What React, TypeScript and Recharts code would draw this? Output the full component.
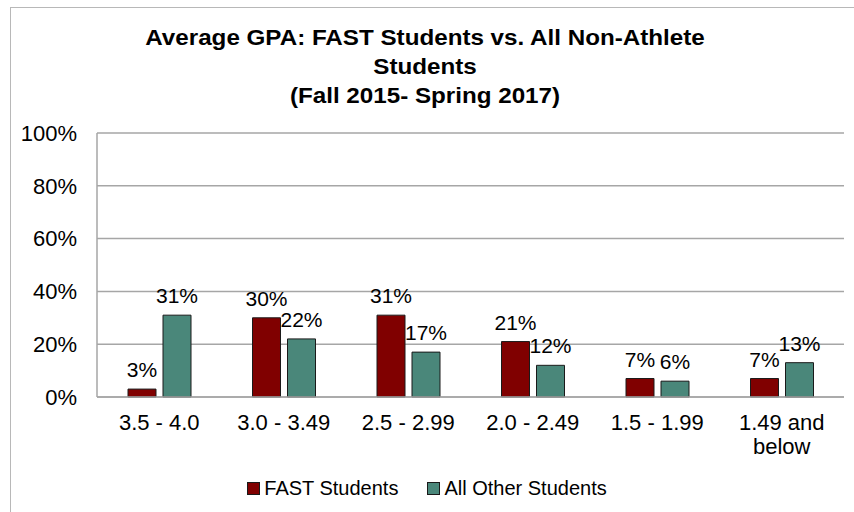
import React from 'react';
import { BarChart, Bar, XAxis, YAxis, CartesianGrid, Legend, LabelList } from 'recharts';

const gpaRanges = ['3.5 - 4.0', '3.0 - 3.49', '2.5 - 2.99', '2.0 - 2.49', '1.5 - 1.99', '1.49 and below'];
const fastStudents = [3, 30, 31, 21, 7, 7];
const otherStudents = [31, 22, 17, 12, 6, 13];
const percentTicks = [0, 20, 40, 60, 80, 100];
const titleLines = ['Average GPA: FAST Students vs. All Non-Athlete', 'Students', '(Fall 2015- Spring 2017)'];

const FONT = '"Liberation Sans", Arial, sans-serif';
const RED = '#800000';
const TEAL = '#4a877a';

const data = gpaRanges.map((range, i) => ({
  range,
  fast: fastStudents[i],
  other: otherStudents[i],
}));

let measureCtx: CanvasRenderingContext2D | null = null;
const textWidth = (s: string, size: number) => {
  if (!measureCtx) measureCtx = document.createElement('canvas').getContext('2d');
  if (!measureCtx) return s.length * size * 0.55;
  measureCtx.font = `${size}px ${FONT}`;
  return measureCtx.measureText(s).width;
};

// greedy word wrap, like Excel does for "1.49 and / below"
const wrapLabel = (label: string, maxWidth: number, size: number) => {
  const lines: string[] = [];
  let current = '';
  label.split(' ').forEach((word) => {
    const next = current ? `${current} ${word}` : word;
    if (current && textWidth(next, size) > maxWidth) {
      lines.push(current);
      current = word;
    } else {
      current = next;
    }
  });
  if (current) lines.push(current);
  return lines;
};

const RangeTick = (props: any) => {
  const { x, y, payload } = props;
  const lines = wrapLabel(String(payload.value), 110, 22);
  return (
    <text x={x} y={y} textAnchor="middle" fontSize={22} fontFamily={FONT} fill="#000">
      {lines.map((line, i) => (
        <tspan key={line} x={x} dy={i === 0 ? '0.71em' : 24}>
          {line}
        </tspan>
      ))}
    </text>
  );
};

const LegendBox = () => (
  <div style={{ display: 'flex', justifyContent: 'center', fontFamily: FONT, fontSize: 20, color: '#000' }}>
    {[
      { name: 'FAST Students', color: RED },
      { name: 'All Other Students', color: TEAL },
    ].map((item, i) => (
      <div key={item.name} style={{ display: 'flex', alignItems: 'center', marginLeft: i ? 29 : 0 }}>
        <span
          style={{
            display: 'inline-block',
            width: 11,
            height: 11,
            background: item.color,
            border: '1px solid #1a1a1a',
            marginRight: 4,
          }}
        />
        <span>{item.name}</span>
      </div>
    ))}
  </div>
);

const App: React.FC = () => {
  return (
    <div style={{ position: 'absolute', left: 0, top: 0, width: 854, height: 512, overflow: 'hidden', background: '#fff' }}>
      <div
        style={{
          position: 'absolute',
          left: 10,
          top: 7,
          width: 900,
          height: 600,
          border: '1.5px solid #b8b8b8',
        }}
      />
      <div style={{ position: 'absolute', left: 0, top: 0 }}>
        <BarChart
          width={854}
          height={512}
          data={data}
          margin={{ top: 133, right: 10, bottom: 0, left: 0 }}
          barGap={7}
        >
          <CartesianGrid horizontal vertical={false} stroke="#a6a6a6" strokeWidth={1.5} />
          <XAxis
            dataKey="range"
            height={115}
            axisLine={{ stroke: '#a6a6a6', strokeWidth: 1.5 }}
            tickLine={false}
            tickSize={0}
            tickMargin={17}
            interval={0}
            tick={<RangeTick />}
          />
          <YAxis
            width={97}
            domain={[0, 100]}
            ticks={percentTicks}
            tickFormatter={(v: number) => `${v}%`}
            axisLine={{ stroke: '#a6a6a6', strokeWidth: 1.5 }}
            tickLine={false}
            tickSize={0}
            tickMargin={20}
            tick={{ fontSize: 22, fill: '#000', fontFamily: FONT }}
          />
          <Legend
            layout="horizontal"
            verticalAlign="middle"
            align="center"
            wrapperStyle={{ top: 477, left: 0, width: 854 }}
            content={<LegendBox />}
          />
          <Bar dataKey="fast" name="FAST Students" fill={RED} stroke="#1a1a1a" strokeWidth={1} barSize={28} isAnimationActive={false}>
            <LabelList
              dataKey="fast"
              position="top"
              offset={12}
              formatter={(v: any) => `${v}%`}
              fill="#000"
              fontSize={21}
              fontFamily={FONT}
            />
          </Bar>
          <Bar dataKey="other" name="All Other Students" fill={TEAL} stroke="#1a1a1a" strokeWidth={1} barSize={28} isAnimationActive={false}>
            <LabelList
              dataKey="other"
              position="top"
              offset={12}
              formatter={(v: any) => `${v}%`}
              fill="#000"
              fontSize={21}
              fontFamily={FONT}
            />
          </Bar>
        </BarChart>
      </div>
      <svg width={854} height={130} style={{ position: 'absolute', left: 0, top: 0, pointerEvents: 'none' }}>
        <g transform="translate(425,0) scale(1.1,1)">
          {titleLines.map((line, i) => (
            <text
              key={line}
              x={0}
              y={45 + i * 29}
              textAnchor="middle"
              fontFamily={FONT}
              fontSize={22}
              fontWeight="bold"
              fill="#000"
            >
              {line}
            </text>
          ))}
        </g>
      </svg>
    </div>
  );
};

export default App;
